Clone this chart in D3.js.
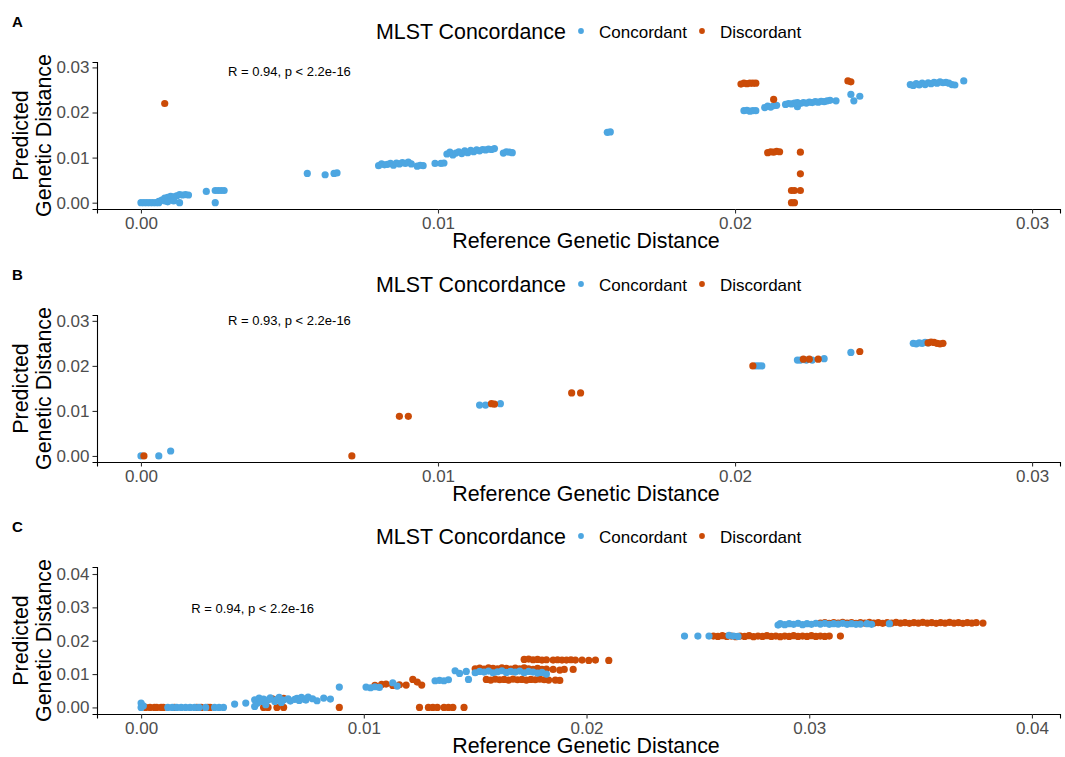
<!DOCTYPE html>
<html>
<head>
<meta charset="utf-8">
<script src="https://cdn.jsdelivr.net/npm/d3@7"></script>
<style>
  body { margin: 0; background: #fff; }
  text { font-family: "Liberation Sans", Arial, sans-serif; }
</style>
</head>
<body>
<div id="chart"></div>
<script>
const categories = ["Concordant", "Discordant"];
const panelLabels = ["A", "B", "C"];
const corLabels = ["R = 0.94, p < 2.2e-16", "R = 0.93, p < 2.2e-16", "R = 0.94, p < 2.2e-16"];
const ticksAB = [0, 0.01, 0.02, 0.03];
const ticksC = [0, 0.01, 0.02, 0.03, 0.04];

// [reference, predicted]
const aConcordant = [
  [0.0000,0.0000],[0.0001,0.0000],[0.0002,0.0000],[0.0003,0.0000],[0.0004,0.0000],[0.0005,0.0000],[0.0006,0.0000],
  [0.0006,0.0003],[0.0007,0.0006],[0.0008,0.0004],[0.0008,0.0010],[0.0009,0.0012],[0.0010,0.0008],[0.0010,0.0014],
  [0.0011,0.0013],[0.0012,0.0015],[0.0013,0.0018],[0.0014,0.0017],[0.0015,0.0018],[0.0016,0.0017],[0.0013,0.0000],
  [0.0009,0.0002],[0.0011,0.0004],
  [0.0022,0.0025],[0.0025,0.0027],[0.0026,0.0027],[0.0027,0.0027],[0.0028,0.0027],[0.0025,0.0000],
  [0.0056,0.0065],[0.0062,0.0062],[0.0065,0.0065],[0.0066,0.0066],
  [0.0080,0.0082],[0.0081,0.0086],[0.0082,0.0084],[0.0083,0.0085],[0.0084,0.0087],[0.0085,0.0083],[0.0086,0.0088],
  [0.0087,0.0086],[0.0088,0.0089],[0.0089,0.0087],[0.0090,0.0090],[0.0091,0.0086],
  [0.0093,0.0081],[0.0094,0.0083],[0.0095,0.0082],
  [0.0099,0.0087],[0.0101,0.0087],[0.0102,0.0088],
  [0.0103,0.0108],[0.0104,0.0112],[0.0105,0.0106],[0.0106,0.0110],[0.0107,0.0113],[0.0108,0.0109],[0.0109,0.0115],
  [0.0110,0.0111],[0.0111,0.0116],[0.0112,0.0113],[0.0113,0.0117],[0.0114,0.0115],[0.0115,0.0118],[0.0116,0.0117],
  [0.0117,0.0119],[0.0118,0.0118],[0.0119,0.0120],
  [0.0122,0.0110],[0.0123,0.0113],[0.0124,0.0112],[0.0125,0.0111],
  [0.0157,0.0156],[0.0158,0.0157],
  [0.0203,0.0204],[0.0204,0.0205],[0.0205,0.0203],[0.0206,0.0204],[0.0207,0.0204],
  [0.0210,0.0211],[0.0211,0.0214],[0.0212,0.0212],[0.0213,0.0215],[0.0214,0.0216],
  [0.0217,0.0218],[0.0218,0.0220],[0.0219,0.0219],[0.0220,0.0221],[0.0221,0.0213],[0.0221,0.0222],[0.0222,0.0220],
  [0.0223,0.0222],[0.0224,0.0221],[0.0225,0.0223],[0.0226,0.0222],[0.0227,0.0224],[0.0228,0.0223],[0.0229,0.0225],
  [0.0230,0.0224],[0.0231,0.0226],[0.0232,0.0227],[0.0234,0.0226],
  [0.0239,0.0240],[0.0240,0.0226],[0.0242,0.0236],
  [0.0259,0.0262],[0.0260,0.0260],[0.0261,0.0264],[0.0262,0.0261],[0.0263,0.0265],[0.0264,0.0262],[0.0265,0.0266],
  [0.0266,0.0264],[0.0267,0.0267],[0.0268,0.0265],[0.0269,0.0268],[0.0270,0.0266],[0.0271,0.0267],[0.0272,0.0265],
  [0.0273,0.0262],[0.0274,0.0261],
  [0.0277,0.0270]
];
const aDiscordant = [
  [0.0008,0.0220],
  [0.0202,0.0263],[0.0203,0.0265],[0.0204,0.0264],[0.0205,0.0265],[0.0206,0.0265],[0.0207,0.0265],
  [0.0213,0.0229],
  [0.0238,0.0270],[0.0239,0.0268],
  [0.0211,0.0111],[0.0212,0.0113],[0.0213,0.0112],[0.0214,0.0114],[0.0215,0.0113],
  [0.0222,0.0112],
  [0.0222,0.0064],
  [0.0219,0.0027],[0.0220,0.0027],[0.0222,0.0027],
  [0.0219,0.0000],[0.0220,0.0000]
];

const bConcordant = [
  [0.0000,0.0000],[0.0006,0.0000],[0.0010,0.0011],
  [0.0114,0.0113],[0.0116,0.0113],[0.0121,0.0116],
  [0.0207,0.0200],[0.0208,0.0200],[0.0209,0.0200],
  [0.0221,0.0213],[0.0222,0.0213],[0.0223,0.0214],[0.0224,0.0213],[0.0226,0.0213],
  [0.0230,0.0216],
  [0.0239,0.0230],
  [0.0260,0.0250],[0.0261,0.0249],[0.0262,0.0251],[0.0263,0.0250],[0.0264,0.0252],[0.0265,0.0251]
];
const bDiscordant = [
  [0.0001,0.0000],
  [0.0071,0.0000],
  [0.0087,0.0088],[0.0090,0.0088],
  [0.0118,0.0116],[0.0119,0.0115],
  [0.0145,0.0140],[0.0148,0.0140],
  [0.0206,0.0200],
  [0.0223,0.0215],[0.0225,0.0215],
  [0.0228,0.0215],
  [0.0242,0.0232],
  [0.0265,0.0251],[0.0266,0.0253],[0.0267,0.0252],[0.0268,0.0250],[0.0269,0.0249],[0.0270,0.0250]
];

const cConcordant = [
  [0.0000,0.0013],[0.0000,0.0000],[0.0001,0.0005],
  [0.0012,0.0000],[0.0014,0.0000],[0.0016,0.0000],[0.0018,0.0000],[0.0020,0.0000],[0.0022,0.0000],[0.0024,0.0000],
  [0.0026,0.0000],[0.0029,0.0000],[0.0033,0.0000],[0.0035,0.0000],[0.0037,0.0000],
  [0.0042,0.0010],[0.0047,0.0013],
  [0.0051,0.0023],[0.0051,0.0003],[0.0052,0.0012],[0.0053,0.0028],[0.0054,0.0018],[0.0055,0.0025],[0.0056,0.0008],
  [0.0057,0.0022],[0.0058,0.0029],[0.0060,0.0018],[0.0061,0.0024],[0.0062,0.0030],[0.0063,0.0015],[0.0064,0.0022],
  [0.0066,0.0026],[0.0067,0.0019],[0.0069,0.0024],[0.0070,0.0027],[0.0071,0.0021],[0.0072,0.0030],[0.0073,0.0025],
  [0.0074,0.0022],[0.0075,0.0031],[0.0077,0.0026],[0.0079,0.0020],[0.0082,0.0028],[0.0085,0.0025],
  [0.0089,0.0061],
  [0.0101,0.0061],[0.0103,0.0059],[0.0105,0.0062],[0.0107,0.0060],
  [0.0113,0.0074],[0.0115,0.0064],
  [0.0132,0.0080],[0.0134,0.0081],[0.0136,0.0080],[0.0138,0.0083],
  [0.0141,0.0110],[0.0143,0.0102],[0.0146,0.0108],
  [0.0147,0.0084],
  [0.0150,0.0104],[0.0152,0.0108],[0.0154,0.0106],[0.0156,0.0109],[0.0158,0.0104],[0.0160,0.0107],[0.0162,0.0110],
  [0.0164,0.0105],[0.0166,0.0108],[0.0168,0.0106],[0.0170,0.0109],[0.0172,0.0104],[0.0174,0.0108],[0.0176,0.0106],
  [0.0178,0.0103],[0.0180,0.0105],[0.0182,0.0100],
  [0.0244,0.0214],[0.0250,0.0214],[0.0255,0.0214],[0.0264,0.0216],[0.0266,0.0214],[0.0268,0.0213],
  [0.0286,0.0247],[0.0287,0.0251],[0.0289,0.0248],[0.0291,0.0251],[0.0293,0.0249],[0.0295,0.0252],[0.0297,0.0248],
  [0.0299,0.0251],[0.0301,0.0249],[0.0303,0.0252],[0.0305,0.0250],[0.0307,0.0252],[0.0309,0.0249],[0.0311,0.0251],
  [0.0313,0.0250],[0.0315,0.0252],[0.0317,0.0249],[0.0319,0.0251],[0.0321,0.0249],[0.0323,0.0250],[0.0326,0.0251],
  [0.0328,0.0249],[0.0336,0.0251]
];
const cDiscordant = [
  [0.0002,0.0000],[0.0004,0.0000],[0.0006,0.0000],[0.0007,0.0000],[0.0009,0.0000],[0.0010,0.0000],[0.0015,0.0000],
  [0.0025,0.0000],[0.0027,0.0000],[0.0030,0.0000],[0.0031,0.0000],
  [0.0055,0.0000],[0.0057,0.0000],[0.0061,0.0000],[0.0064,0.0000],[0.0059,0.0026],[0.0062,0.0025],[0.0064,0.0027],
  [0.0089,0.0000],
  [0.0105,0.0066],[0.0108,0.0069],[0.0110,0.0070],[0.0113,0.0066],[0.0116,0.0068],[0.0119,0.0067],
  [0.0122,0.0084],[0.0124,0.0076],[0.0126,0.0067],
  [0.0125,0.0000],[0.0129,0.0000],[0.0131,0.0000],[0.0133,0.0000],[0.0136,0.0000],[0.0138,0.0000],[0.0140,0.0000],
  [0.0145,0.0000],
  [0.0150,0.0116],[0.0152,0.0118],[0.0154,0.0115],[0.0156,0.0119],[0.0158,0.0117],[0.0160,0.0116],[0.0162,0.0119],
  [0.0164,0.0117],[0.0166,0.0115],[0.0168,0.0118],[0.0170,0.0116],[0.0172,0.0119],[0.0174,0.0116],[0.0176,0.0114],
  [0.0178,0.0117],[0.0180,0.0114],[0.0182,0.0115],[0.0185,0.0114],[0.0188,0.0112],[0.0190,0.0114],[0.0194,0.0114],
  [0.0155,0.0084],[0.0157,0.0082],[0.0159,0.0085],[0.0161,0.0083],[0.0163,0.0084],[0.0165,0.0082],[0.0167,0.0085],
  [0.0169,0.0083],[0.0171,0.0084],[0.0173,0.0082],[0.0175,0.0084],[0.0177,0.0083],[0.0179,0.0085],[0.0181,0.0083],
  [0.0183,0.0082],[0.0186,0.0082],[0.0188,0.0081],
  [0.0172,0.0144],[0.0174,0.0145],[0.0176,0.0143],[0.0178,0.0144],[0.0180,0.0142],[0.0182,0.0143],[0.0185,0.0142],
  [0.0187,0.0143],[0.0189,0.0142],[0.0191,0.0142],[0.0193,0.0143],[0.0195,0.0142],[0.0198,0.0142],[0.0201,0.0141],
  [0.0204,0.0142],[0.0210,0.0141],
  [0.0257,0.0214],[0.0259,0.0213],[0.0261,0.0215],[0.0263,0.0213],[0.0265,0.0214],[0.0267,0.0212],[0.0269,0.0214],
  [0.0271,0.0213],[0.0273,0.0215],[0.0275,0.0212],[0.0277,0.0214],[0.0279,0.0213],[0.0281,0.0215],[0.0283,0.0213],
  [0.0285,0.0214],[0.0287,0.0212],[0.0289,0.0214],[0.0291,0.0213],[0.0293,0.0215],[0.0295,0.0213],[0.0297,0.0214],
  [0.0299,0.0213],[0.0301,0.0215],[0.0303,0.0213],[0.0305,0.0214],[0.0307,0.0213],[0.0309,0.0214],[0.0314,0.0214],
  [0.0305,0.0253],[0.0307,0.0254],[0.0309,0.0252],[0.0311,0.0254],[0.0313,0.0253],[0.0315,0.0255],[0.0317,0.0253],
  [0.0319,0.0254],[0.0321,0.0252],[0.0323,0.0254],[0.0325,0.0253],[0.0327,0.0255],[0.0329,0.0253],[0.0331,0.0254],
  [0.0333,0.0252],[0.0335,0.0254],[0.0337,0.0253],[0.0339,0.0255],[0.0341,0.0253],[0.0343,0.0254],[0.0345,0.0252],
  [0.0347,0.0254],[0.0349,0.0253],[0.0351,0.0255],[0.0353,0.0253],[0.0355,0.0254],[0.0357,0.0252],[0.0359,0.0254],
  [0.0361,0.0253],[0.0363,0.0255],[0.0365,0.0253],[0.0367,0.0254],[0.0369,0.0252],[0.0371,0.0254],[0.0373,0.0253],
  [0.0375,0.0254],[0.0378,0.0253]
];

const width = 1065, height = 757;
const color = d3.scaleOrdinal().domain(categories).range(["#4DA6E1", "#CB4B07"]);

// discFirst: draw discordant under concordant
const panels = [
  { off: 0,   conc: aConcordant, disc: aDiscordant, discFirst: false, ticks: ticksAB, xDom: [-0.00148, 0.03094], yDom: [-0.0014, 0.0312], cor: [0.00293, 0.0290] },
  { off: 253, conc: bConcordant, disc: bDiscordant, discFirst: false, ticks: ticksAB, xDom: [-0.00148, 0.03094], yDom: [-0.00134, 0.0313], cor: [0.00293, 0.0300] },
  { off: 505, conc: cConcordant, disc: cDiscordant, discFirst: true,  ticks: ticksC,  xDom: [-0.00198, 0.04126], yDom: [-0.00197, 0.0421], cor: [0.00225, 0.0298] }
];

const svg = d3.select("#chart").append("svg")
  .attr("width", width).attr("height", height)
  .style("background", "#fff");

const plotLeft = 97, plotRight = 1060, plotTop = 62, plotBottom = 209;
const fmt = d3.format(".2f");

panels.forEach((p, i) => {
  const g = svg.append("g").attr("transform", `translate(0,${p.off})`);

  const x = d3.scaleLinear().domain(p.xDom).range([plotLeft, plotRight]);
  const y = d3.scaleLinear().domain(p.yDom).range([plotBottom, plotTop]);

  // panel tag
  g.append("text").attr("x", 12).attr("y", 27)
    .style("font-size", "15px").style("font-weight", "bold").text(panelLabels[i]);

  // legend
  const lg = g.append("g");
  lg.append("text").attr("x", 376).attr("y", 38.5).style("font-size", "21.4px").text("MLST Concordance");
  const keyX = [581, 702];
  categories.forEach((c, k) => {
    lg.append("circle").attr("cx", keyX[k]).attr("cy", 31).attr("r", 2.9).attr("fill", color(c));
    lg.append("text").attr("x", keyX[k] + 18).attr("y", 37.5).style("font-size", "17px").text(c);
  });

  // axes
  const xAxis = g.append("g").attr("transform", `translate(0,${plotBottom})`)
    .call(d3.axisBottom(x).tickValues(p.ticks).tickFormat(fmt).tickSize(4.5).tickPadding(3));
  const yAxis = g.append("g").attr("transform", `translate(${plotLeft},0)`)
    .call(d3.axisLeft(y).tickValues(p.ticks).tickFormat(fmt).tickSize(4.5).tickPadding(3));
  [xAxis, yAxis].forEach(a => {
    a.select(".domain").attr("stroke", "#000").attr("stroke-width", 1.1);
    a.selectAll(".tick line").attr("stroke", "#333").attr("stroke-width", 1.1);
    a.selectAll(".tick text").attr("fill", "#4D4D4D")
      .style("font-size", "17px").style("font-family", "'Liberation Sans', Arial, sans-serif");
  });

  // axis titles
  g.append("text").attr("x", 586).attr("y", 248)
    .attr("text-anchor", "middle").style("font-size", "21.4px").text("Reference Genetic Distance");
  const yt = g.append("text").attr("transform", `translate(28,${(plotTop + plotBottom) / 2}) rotate(-90)`)
    .attr("text-anchor", "middle").style("font-size", "21.4px");
  yt.append("tspan").attr("x", 0).attr("dy", 0).text("Predicted");
  yt.append("tspan").attr("x", 0).attr("dy", 23).text("Genetic Distance");

  // points
  const concPts = p.conc.map(d => ({ x: d[0], y: d[1], c: "Concordant" }));
  const discPts = p.disc.map(d => ({ x: d[0], y: d[1], c: "Discordant" }));
  const pts = p.discFirst ? discPts.concat(concPts) : concPts.concat(discPts);
  g.append("g").selectAll("circle").data(pts).enter().append("circle")
    .attr("cx", d => x(d.x)).attr("cy", d => y(d.y))
    .attr("r", 3.6).attr("fill", d => color(d.c));

  // correlation label
  g.append("text").attr("x", x(p.cor[0])).attr("y", y(p.cor[1]))
    .attr("dominant-baseline", "central").style("font-size", "13px").text(corLabels[i]);
});
</script>
</body>
</html>
